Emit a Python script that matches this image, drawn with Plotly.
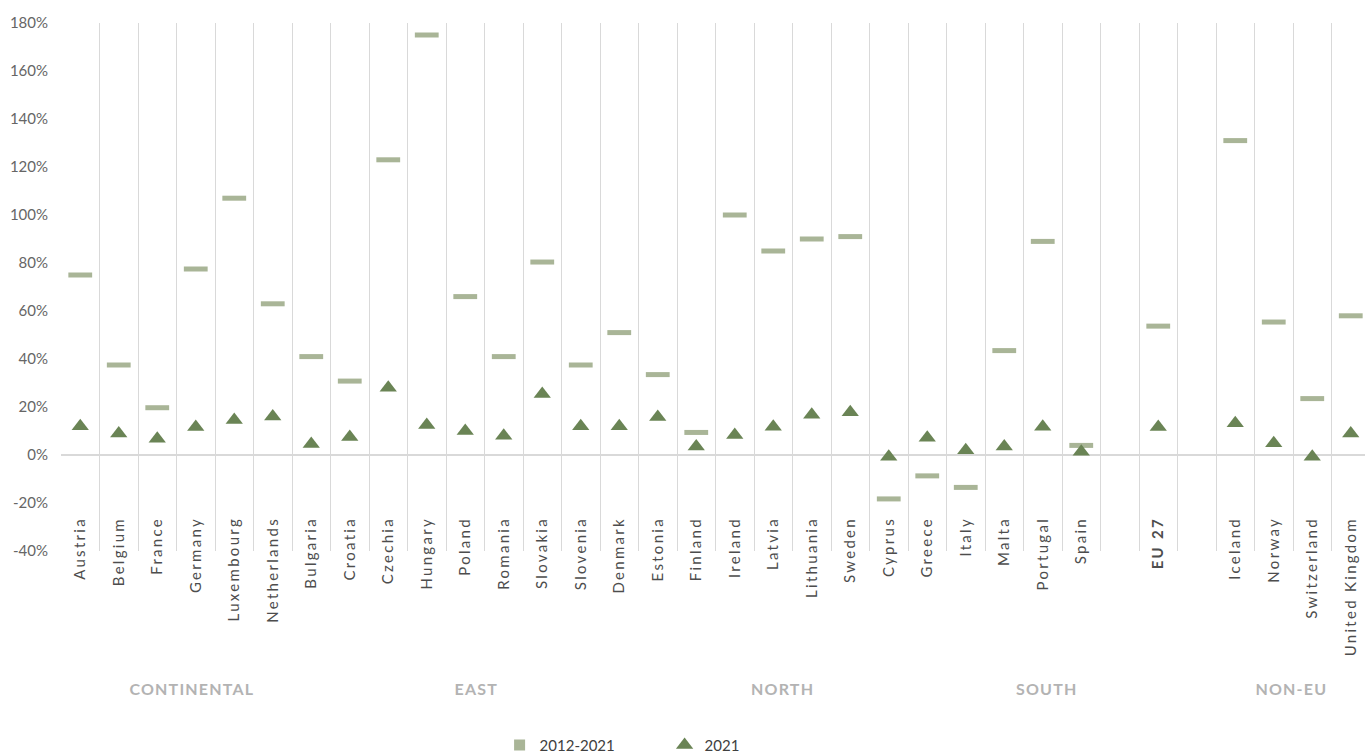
import plotly.graph_objects as go

# Countries (with empty spacer slots around the EU 27 aggregate)
countries = [
    "Austria", "Belgium", "France", "Germany", "Luxembourg", "Netherlands",
    "Bulgaria", "Croatia", "Czechia", "Hungary", "Poland", "Romania", "Slovakia",
    "Slovenia", "Denmark", "Estonia", "Finland", "Ireland", "Latvia", "Lithuania",
    "Sweden", "Cyprus", "Greece", "Italy", "Malta", "Portugal", "Spain",
    "", "<b>EU 27</b>", " ",
    "Iceland", "Norway", "Switzerland", "United Kingdom",
]

# Growth 2012-2021 (%)
growth_2012_2021 = [
    75, 37.5, 19.7, 77.5, 107, 63,
    41, 30.8, 123, 175, 66, 41, 80.4,
    37.5, 51, 33.5, 9.4, 100, 85, 90,
    91, -18.3, -8.7, -13.5, 43.5, 89, 4,
    None, 53.7, None,
    131, 55.4, 23.5, 58,
]

# Growth in 2021 (%)
growth_2021 = [
    12, 9, 6.8, 11.7, 14.6, 16,
    4.6, 7.5, 28, 12.5, 10, 8, 25.4,
    12, 12, 15.8, 3.5, 8.3, 11.8, 16.8,
    17.8, -0.7, 7.2, 2, 3.5, 11.8, 1.4,
    None, 11.7, None,
    13.2, 4.9, -0.7, 9,
]

# Region groups and where their captions sit on the x axis
groups = ["CONTINENTAL", "EAST", "NORTH", "SOUTH", "NON-EU"]
group_pos = [2.9, 10.3, 18.25, 25.1, 31.45]

y_ticks = list(range(-40, 181, 20))
y_tick_text = [f"{v}%" for v in y_ticks]

DASH_COLOR = "#a9b597"
TRI_COLOR = "#6a8455"
GRID_COLOR = "#d9d9d9"

x_idx = list(range(len(countries)))

fig = go.Figure()

fig.add_trace(go.Scatter(
    x=x_idx, y=growth_2012_2021, mode="markers", name="2012-2021",
    showlegend=False, legendgroup="a",
    marker=dict(symbol="line-ew", size=17,
                line=dict(width=5, color=DASH_COLOR)),
))
# legend swatch for the period series
fig.add_trace(go.Scatter(
    x=[None], y=[None], mode="markers", name="2012-2021", legendgroup="a",
    marker=dict(symbol="square", size=11, color=DASH_COLOR),
))
fig.add_trace(go.Scatter(
    x=x_idx, y=growth_2021, mode="markers", name="2021",
    marker=dict(symbol="triangle-up", size=15, color=TRI_COLOR),
))

for name, pos in zip(groups, group_pos):
    fig.add_annotation(
        x=pos, y=-0.261, xref="x", yref="paper", text=f"<b>{name}</b>",
        showarrow=False, yanchor="middle",
        font=dict(family="Lato", size=16, color="#b3b3b3"),
    )

fig.update_layout(
    width=1365, height=755,
    margin=dict(l=61, r=0, t=23, b=204, autoexpand=False),
    paper_bgcolor="white", plot_bgcolor="white",
    font=dict(family="Lato", color="#404040"),
    xaxis=dict(
        range=[-0.5, 33.37],
        tickmode="array", tickvals=x_idx, ticktext=countries,
        tickangle=-90, tickfont=dict(size=15, color="#4d4d4d"),
        ticklabelstandoff=-38, automargin=False,
        showgrid=False, zeroline=False, showline=False, ticks="",
        minor=dict(tick0=0.5, dtick=1, showgrid=True,
                   gridcolor=GRID_COLOR, gridwidth=1),
    ),
    yaxis=dict(
        range=[-40, 180], tickmode="array", tickvals=y_ticks,
        ticktext=y_tick_text, ticklabelstandoff=12, automargin=False,
        tickfont=dict(size=15, color="#666666"),
        showgrid=False, zeroline=True, zerolinecolor=GRID_COLOR,
        zerolinewidth=2, showline=False, ticks="",
    ),
    legend=dict(
        orientation="h", xref="container", yref="container",
        x=0.366, xanchor="left", y=0.013, yanchor="middle",
        entrywidth=120, font=dict(size=15, color="#404040"),
    ),
)

# widen the tracking of the category labels and group captions
spacing_js = """
document.querySelectorAll('.xtick text').forEach(function(t){t.style.letterSpacing='2.3px';});
document.querySelectorAll('.annotation-text').forEach(function(t){t.style.letterSpacing='1.2px';});
"""

fig.write_html("out.html", post_script=spacing_js)
